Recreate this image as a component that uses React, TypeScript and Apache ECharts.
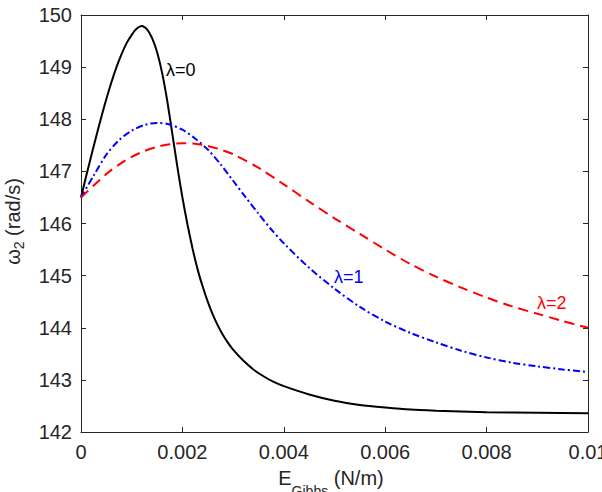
import React, { useEffect, useRef } from "react";
import * as echarts from "echarts";

// Data
const blackE = [0, 0.0001, 0.0002, 0.0003, 0.0004, 0.0005, 0.0006, 0.0007, 0.0008, 0.0009, 0.001, 0.0011, 0.0012, 0.0013, 0.0014, 0.0015, 0.0016, 0.0017, 0.0018, 0.0019, 0.002, 0.0021, 0.0022, 0.0023, 0.0024, 0.0025, 0.0026, 0.0027, 0.0028, 0.0029, 0.003, 0.0032, 0.0034, 0.0036, 0.0038, 0.004, 0.0045, 0.005, 0.0055, 0.006, 0.0065, 0.007, 0.008, 0.009, 0.01];
const blackW = [146.5, 146.9, 147.29, 147.67, 148.04, 148.39, 148.71, 149.0, 149.25, 149.46, 149.62, 149.74, 149.79, 149.73, 149.56, 149.29, 148.89, 148.36, 147.73, 147.09, 146.5, 145.98, 145.52, 145.12, 144.79, 144.5, 144.25, 144.04, 143.86, 143.71, 143.58, 143.37, 143.2, 143.07, 142.96, 142.88, 142.72, 142.6, 142.52, 142.47, 142.43, 142.41, 142.38, 142.37, 142.36];

const blueE = [0, 0.00025, 0.0005, 0.00075, 0.001, 0.00125, 0.0015, 0.00175, 0.002, 0.00225, 0.0025, 0.00275, 0.003, 0.00325, 0.0035, 0.00375, 0.004, 0.0045, 0.005, 0.0055, 0.006, 0.0065, 0.007, 0.0075, 0.008, 0.0085, 0.009, 0.0095, 0.01];
const blueW = [146.5, 146.92, 147.32, 147.6, 147.78, 147.89, 147.93, 147.9, 147.8, 147.63, 147.42, 147.14, 146.82, 146.5, 146.19, 145.89, 145.62, 145.15, 144.75, 144.4, 144.12, 143.9, 143.72, 143.56, 143.43, 143.33, 143.26, 143.2, 143.15];

const redE = [0, 0.00025, 0.0005, 0.00075, 0.001, 0.00125, 0.0015, 0.00175, 0.002, 0.00225, 0.0025, 0.00275, 0.003, 0.0035, 0.004, 0.0045, 0.005, 0.0055, 0.006, 0.0065, 0.007, 0.0075, 0.008, 0.0085, 0.009, 0.0095, 0.01];
const redW = [146.5, 146.73, 146.95, 147.13, 147.28, 147.39, 147.47, 147.52, 147.54, 147.53, 147.49, 147.42, 147.33, 147.07, 146.75, 146.42, 146.1, 145.8, 145.5, 145.22, 144.98, 144.77, 144.58, 144.41, 144.27, 144.13, 144.0];

const xMin = 0;
const xMax = 0.01;
const xStep = 0.002;
const yMin = 142;
const yMax = 150;
const yStep = 1;

const curveLabels = ["λ=0", "λ=1", "λ=2"];

const FONT = "'Liberation Sans', Arial, Helvetica, sans-serif";
const AX = "#262626";

function pairs(xs: number[], ys: number[]) {
  return xs.map((x, i) => [x, ys[i]]);
}

function measure(text: string, size: number): number {
  const c = document.createElement("canvas").getContext("2d");
  if (!c) return text.length * size * 0.55;
  c.font = `${size}px ${FONT}`;
  return c.measureText(text).width;
}

export default function App() {
  const ref = useRef<HTMLDivElement>(null);

  useEffect(() => {
    if (!ref.current) return;
    const chart = echarts.init(ref.current, undefined, { renderer: "svg" });

    const axisCommon = {
      axisLine: { show: true, onZero: false, lineStyle: { color: AX, width: 1 } },
      axisTick: { show: true, inside: true, length: 5, lineStyle: { color: AX, width: 1 } },
      splitLine: { show: false },
    };

    // x axis name pieces
    const mainX = 20;
    const subX = 14;
    const xParts = ["E", "Gibbs", " (N/m)"];
    const xw = [measure(xParts[0], mainX), measure(xParts[1], subX), measure(xParts[2], mainX)];
    const xTotal = xw[0] + xw[1] + xw[2];
    const xCenter = 331;
    const xStart = xCenter - xTotal / 2;
    const xMid = 478;

    // y axis name pieces
    const mainY = 20;
    const subY = 14;
    const yParts = ["ω", "2", " (rad/s)"];
    const yw = [measure(yParts[0], mainY), measure(yParts[1], subY), measure(yParts[2], mainY)];
    const yTotal = yw[0] + yw[1] + yw[2];

    chart.setOption({
      animation: false,
      backgroundColor: "#ffffff",
      grid: { left: 81, right: 14, top: 15, bottom: 60, containLabel: false, outerBoundsMode: "none" },
      xAxis: [
        {
          type: "value",
          min: xMin,
          max: xMax,
          interval: xStep,
          ...axisCommon,
          axisLabel: {
            show: true,
            margin: 10,
            color: AX,
            fontSize: 20,
            fontFamily: FONT,
            formatter: (v: number) => (v === 0 ? "0" : String(parseFloat(v.toFixed(4)))),
          },
        },
        {
          type: "value",
          position: "top",
          min: xMin,
          max: xMax,
          interval: xStep,
          ...axisCommon,
          axisLabel: { show: false },
        },
      ],
      yAxis: [
        {
          type: "value",
          min: yMin,
          max: yMax,
          interval: yStep,
          ...axisCommon,
          axisLabel: { show: true, margin: 9, color: AX, fontSize: 20, fontFamily: FONT },
        },
        {
          type: "value",
          position: "right",
          min: yMin,
          max: yMax,
          interval: yStep,
          ...axisCommon,
          axisLabel: { show: false },
        },
      ],
      series: [
        {
          type: "line",
          name: curveLabels[0],
          data: pairs(blackE, blackW),
          showSymbol: false,
          smooth: 0.2,
          lineStyle: { color: "#000000", width: 2, type: "solid" },
        },
        {
          type: "line",
          name: curveLabels[1],
          data: pairs(blueE, blueW),
          showSymbol: false,
          smooth: 0.3,
          lineStyle: { color: "#0000ff", width: 2, type: [7, 3, 2, 3] },
        },
        {
          type: "line",
          name: curveLabels[2],
          data: pairs(redE, redW),
          showSymbol: false,
          smooth: 0.3,
          lineStyle: { color: "#ff0000", width: 2, type: [10, 6] },
        },
      ],
      graphic: [
        {
          type: "text",
          left: 166,
          top: 61,
          style: { text: curveLabels[0], fill: "#000000", font: `18px ${FONT}` },
        },
        {
          type: "text",
          left: 334,
          top: 268,
          style: { text: curveLabels[1], fill: "#0000ff", font: `18px ${FONT}` },
        },
        {
          type: "text",
          left: 537,
          top: 294,
          style: { text: curveLabels[2], fill: "#ff0000", font: `18px ${FONT}` },
        },
        // x axis name: E_Gibbs (N/m)
        {
          type: "text",
          x: xStart,
          y: xMid,
          style: { text: xParts[0], fill: AX, font: `${mainX}px ${FONT}`, align: "left", verticalAlign: "middle" },
        },
        {
          type: "text",
          x: xStart + xw[0],
          y: xMid + 13,
          style: { text: xParts[1], fill: AX, font: `${subX}px ${FONT}`, align: "left", verticalAlign: "middle" },
        },
        {
          type: "text",
          x: xStart + xw[0] + xw[1],
          y: xMid,
          style: { text: xParts[2], fill: AX, font: `${mainX}px ${FONT}`, align: "left", verticalAlign: "middle" },
        },
        // y axis name: ω_2 (rad/s), rotated
        {
          type: "group",
          x: 13,
          y: 221.5,
          rotation: Math.PI / 2,
          children: [
            {
              type: "text",
              x: -yTotal / 2,
              y: 0,
              style: { text: yParts[0], fill: AX, font: `${mainY}px ${FONT}`, align: "left", verticalAlign: "middle" },
            },
            {
              type: "text",
              x: -yTotal / 2 + yw[0],
              y: 6,
              style: { text: yParts[1], fill: AX, font: `${subY}px ${FONT}`, align: "left", verticalAlign: "middle" },
            },
            {
              type: "text",
              x: -yTotal / 2 + yw[0] + yw[1],
              y: 0,
              style: { text: yParts[2], fill: AX, font: `${mainY}px ${FONT}`, align: "left", verticalAlign: "middle" },
            },
          ],
        },
      ],
    });

    return () => chart.dispose();
  }, []);

  return (
    <div
      ref={ref}
      style={{ position: "fixed", left: 0, top: 0, width: 602, height: 492, background: "#fff" }}
    />
  );
}
